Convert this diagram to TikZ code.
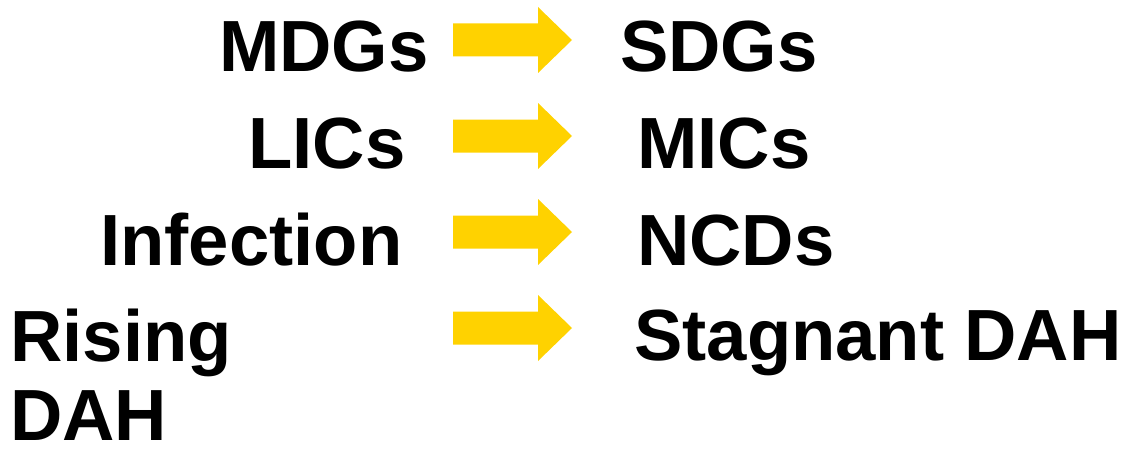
\documentclass[tikz,border=0pt]{standalone}
\usepackage{fontspec}
\setmainfont{Liberation Sans}
\definecolor{gold}{RGB}{255,210,0}
\begin{document}
\begin{tikzpicture}[x=1pt,y=-1pt,
  lbl/.style={anchor=base west,inner sep=0pt,text depth=0pt,font=\fontsize{72.5}{78}\selectfont\bfseries},
  goldarrow/.style={fill=gold}]
\useasboundingbox (0,0) rectangle (1138,452);
% arrows
\foreach \i/\cy in {1/40,2/136,3/232,4/328}{
  \fill[goldarrow] (453,\cy-16.5) -- (538,\cy-16.5) -- (538,\cy-33) -- (572,\cy)
     -- (538,\cy+33) -- (538,\cy+16.5) -- (453,\cy+16.5) -- cycle;
}
% left column
\node[lbl] (mdgs) at (219,71) {MDGs};
\node[lbl] (lics) at (248,168) {LICs};
\node[lbl] (inf) at (100,265) {Infection};
\node[lbl] (ris) at (10,361) {Rising};
\node[lbl] (dah) at (10,440) {DAH};
% right column
\node[lbl] (sdgs) at (620,71) {SDGs};
\node[lbl] (mics) at (637,168) {MICs};
\node[lbl] (ncds) at (637,265) {NCDs};
\node[lbl] (stag) at (634,360) {Stagnant DAH};
\end{tikzpicture}
\end{document}
